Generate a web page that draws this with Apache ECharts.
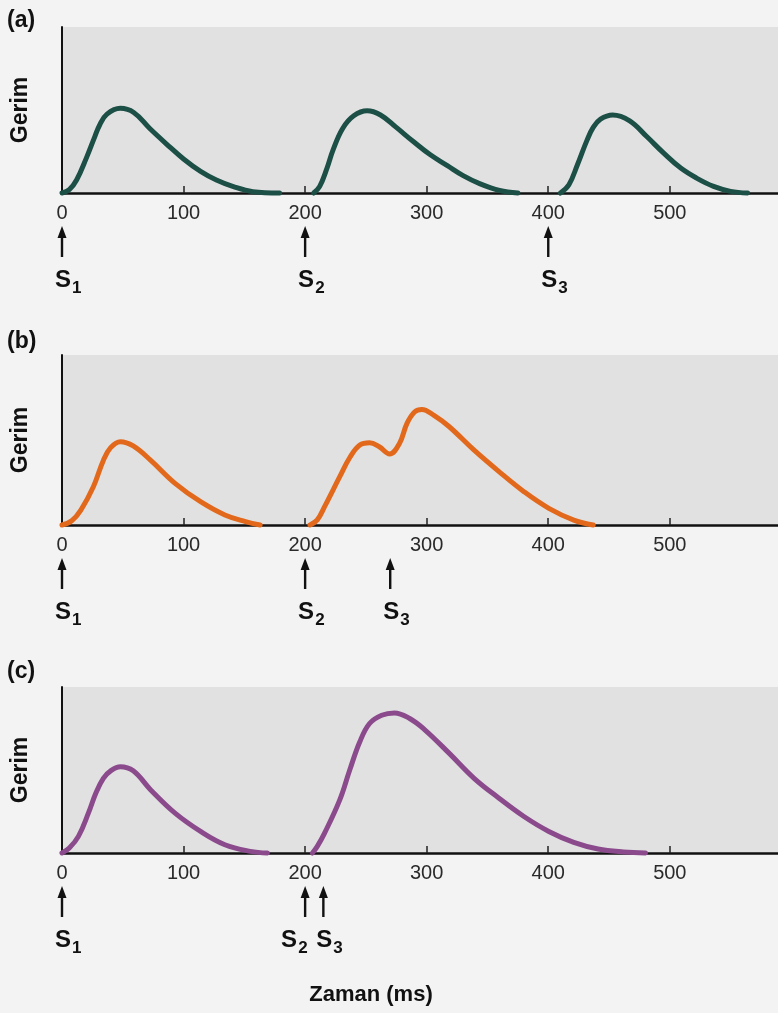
<!DOCTYPE html>
<html><head><meta charset="utf-8">
<script src="https://cdn.jsdelivr.net/npm/echarts@6/dist/echarts.min.js"></script>
<style>html,body{margin:0;padding:0;background:#f3f3f3}#c{width:778px;height:1013px}</style>
</head><body><div id="c"></div>
<script>
// ---- data ----
const xTickLabels = [0, 100, 200, 300, 400, 500];
const xTickMarks = [100, 200, 300, 400, 500];
const panelLabels = ['(a)', '(b)', '(c)'];
const yName = 'Gerim';
const xName = 'Zaman (ms)';

// panel (a): three separate twitches  [time ms, tension]
const a1 = [[0,0],[6,2],[12,7.8],[20,21],[27,34],[31,41],[37,47.5],[48,51],[59,48.5],[72,39],[86,29.5],[100,20.5],[114,13],[127,7.8],[141,3.8],[157,0.8],[179,0]];
const a2 = [[207,0],[212,4],[218,15],[223,26],[231,39],[240,46.5],[251,49.5],[262,47],[275,39.5],[289,31],[303,23],[317,16.5],[330,10.5],[344,5.5],[360,1.5],[375,0]];
const a3 = [[410,0],[417,5],[424,17],[432,32],[437,39.5],[443,44.5],[453,47],[467,43.5],[481,34],[495,24],[509,15],[522,9],[536,4],[550,1],[564,0]];
// panel (b): summation
const b1 = [[0,0],[8,2.5],[15.5,8.8],[25.8,22.5],[34,38],[40,45.5],[48,49],[58.6,46.5],[73,38],[93,24.5],[114,13.7],[134,5.9],[151,2],[163,0]];
const b2 = [[204,0],[210,3],[216,10.8],[228.5,28.4],[237,40],[245,47],[253,48.4],[261,46],[269.5,41.8],[277.6,48],[283.8,59.8],[290,66.5],[296,68],[306,64.5],[318.6,57.8],[339,44],[359.5,31.4],[380,19.6],[400.5,9.8],[421,2.9],[437,0]];
// panel (c): fused summation
const c1 = [[0,0],[6,3],[13.5,10],[21.7,24],[27.8,36],[34,45],[40,49.5],[48,52],[58.6,49.5],[73,38],[93,24],[114,13],[134,5],[155,1],[169,0]];
const c2 = [[206,0],[210,4],[216,12],[228.5,32],[236.7,50],[245,67],[253,78],[263,83],[273.5,84.4],[286,81],[298,74.5],[318.6,60],[339,45],[359.5,33],[380,22],[400.5,13],[421,6.4],[441,2.4],[462,0.6],[480,0]];

// stimuli (ms)
const stimA = [0, 200, 400];
const stimB = [0, 200, 270];
const stimC = [0, 200, 215];

// ---- chart ----
const panels = [
  {curves: [a1, a2, a3], stim: stimA, color: '#1c4f46', top: 27, height: 166, labelTop: 9},
  {curves: [b1, b2], stim: stimB, color: '#e2691c', top: 355, height: 170, labelTop: 330},
  {curves: [c1, c2], stim: stimC, color: '#8a4a8c', top: 687, height: 166, labelTop: 660}
];
const FONT = '"Liberation Sans", Arial, sans-serif';

const chart = echarts.init(document.getElementById('c'), null, {renderer: 'canvas'});
const grid = [], xAxis = [], yAxis = [], series = [];
panels.forEach((p, i) => {
  grid.push({left: 62, right: 0, top: p.top, height: p.height, show: true,
    backgroundColor: '#e2e1e2', borderWidth: 0, containLabel: false});
  xAxis.push({type: 'value', gridIndex: i, min: 0, max: 589, interval: 100,
    axisLine: {show: true, lineStyle: {color: '#111', width: 2.5}},
    axisTick: {show: true, inside: true, length: 7, customValues: xTickMarks, lineStyle: {color: '#222', width: 1.5}},
    axisLabel: {show: true, customValues: xTickLabels, fontSize: 20, color: '#2a2a2a', margin: 10, fontFamily: FONT},
    splitLine: {show: false}});
  yAxis.push({type: 'value', gridIndex: i, min: 0, max: 100,
    axisLine: {show: true, onZero: false, lineStyle: {color: '#111', width: 2}},
    axisTick: {show: false}, axisLabel: {show: false}, splitLine: {show: false},
    name: yName, nameLocation: 'middle', nameGap: 30,
    nameTextStyle: {fontSize: 23, fontWeight: 'bold', color: '#111', fontFamily: FONT}});
  p.curves.forEach(d => series.push({type: 'line', xAxisIndex: i, yAxisIndex: i, data: d,
    smooth: 0.4, showSymbol: false, clip: false, silent: true, z: 5,
    lineStyle: {width: 5, color: p.color, cap: 'round', join: 'round'}}));
});

chart.setOption({animation: false, backgroundColor: '#f3f3f3', grid, xAxis, yAxis, series});

// annotations: stimulus arrows + S labels, panel letters, x-axis title
const g = [];
panels.forEach((p, i) => {
  g.push({type: 'text', left: 7, top: p.labelTop,
    style: {text: panelLabels[i], fontSize: 23, fontWeight: 'bold', fill: '#111', fontFamily: FONT}});
  p.stim.forEach((t, k) => {
    const pt = chart.convertToPixel({xAxisIndex: i, yAxisIndex: i}, [t, 0]);
    const x = pt[0], y = pt[1];
    g.push({type: 'line', shape: {x1: x, y1: y + 40, x2: x, y2: y + 64},
      style: {stroke: '#111', lineWidth: 2.4}});
    g.push({type: 'polygon', shape: {points: [[x, y + 33], [x - 4.5, y + 45], [x + 4.5, y + 45]]},
      style: {fill: '#111'}});
    const next = p.stim[k + 1];
    const shift = (next !== undefined && next - t < 30) ? 17 : 0;
    g.push({type: 'text', x: x - 7 - shift, y: y + 75,
      style: {text: '{s|S}{d|' + (k + 1) + '}', fill: '#111', fontFamily: FONT,
        rich: {s: {fontSize: 24, fontWeight: 'bold', lineHeight: 28, verticalAlign: 'top', fontFamily: FONT},
               d: {fontSize: 17, fontWeight: 'bold', lineHeight: 41, verticalAlign: 'middle', padding: [0, 0, 0, 1], fontFamily: FONT}}}});
  });
});
g.push({type: 'text', x: 371, y: 995,
  style: {text: xName, fontSize: 22, fontWeight: 'bold', fill: '#111', align: 'center', verticalAlign: 'middle', fontFamily: FONT}});
chart.setOption({graphic: g});
</script></body></html>
